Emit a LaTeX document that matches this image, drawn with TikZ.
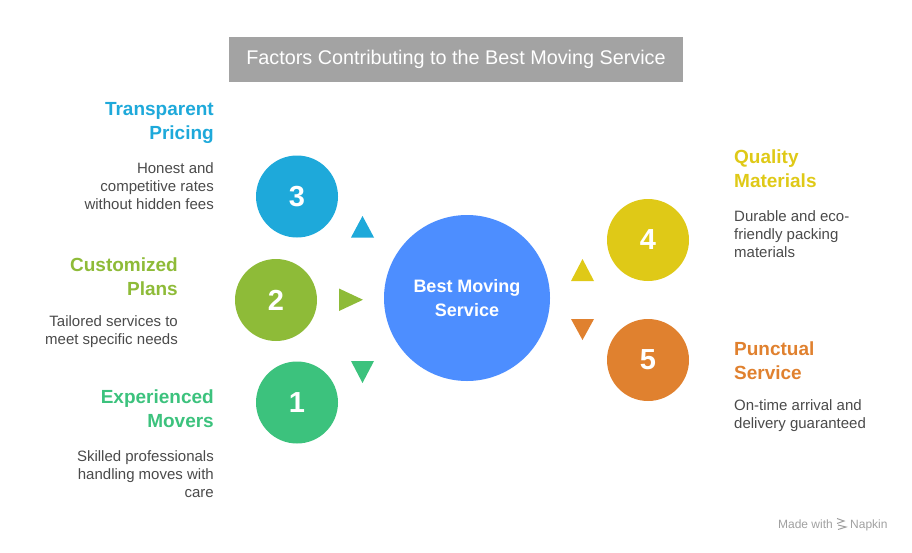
\documentclass[tikz,border=0pt]{standalone}
\usepackage{fontspec}
\setmainfont{Liberation Sans}
\definecolor{titlegray}{HTML}{A3A3A3}
\definecolor{cblue}{HTML}{4D8EFF}
\definecolor{c3}{HTML}{1EA9DA}
\definecolor{c2}{HTML}{8EBB38}
\definecolor{c1}{HTML}{3CC27D}
\definecolor{c4}{HTML}{DFC917}
\definecolor{c5}{HTML}{E0812F}
\definecolor{bodygray}{HTML}{4A4A4A}
\definecolor{napgray}{HTML}{A0A0A0}
\begin{document}
\begin{tikzpicture}[x=1pt,y=-1pt,
  num/.style={circle, minimum size=82pt, inner sep=0pt, text=white, font=\fontsize{29}{30}\selectfont\bfseries},
  head/.style={font=\fontsize{19}{24}\selectfont\bfseries, inner sep=0pt},
  body/.style={font=\fontsize{15}{18}\selectfont, text=bodygray, inner sep=0pt},
  lefttext/.style={anchor=base east, align=right},
  righttext/.style={anchor=base west, align=left}]
\useasboundingbox (0,0) rectangle (912,552);
% title
\node[fill=titlegray, minimum width=454pt, minimum height=45pt, inner sep=0pt,
  text=white, font=\fontsize{19.8}{22}\selectfont] (title) at (456,59.5) {Factors Contributing to the Best Moving Service};
% center
\node[circle, fill=cblue, minimum size=166pt, inner sep=0pt, text=white, align=center,
  font=\fontsize{18}{24}\selectfont\bfseries] (center) at (467,298) {Best Moving\\Service};
% numbered circles
\node[num, fill=c3] (n3) at (297,196.5) {3};
\node[num, fill=c2] (n2) at (276,300) {2};
\node[num, fill=c1] (n1) at (297,402.5) {1};
\node[num, fill=c4] (n4) at (648,240) {4};
\node[num, fill=c5] (n5) at (648,360) {5};
% triangles
\fill[c3] (351,237.5) -- (374,237.5) -- (362.5,216) -- cycle;
\fill[c2] (339,288.5) -- (339,311) -- (363,299.75) -- cycle;
\fill[c1] (351,361) -- (374,361) -- (362.5,383) -- cycle;
\fill[c4] (571,281) -- (594,281) -- (582.5,259) -- cycle;
\fill[c5] (571,319) -- (594,319) -- (582.5,340) -- cycle;
% texts (anchor = baseline of last line)
\node[head, lefttext, text=c3] (h3) at (214,139) {Transparent\\Pricing};
\node[body, lefttext] (b3) at (214,209) {Honest and\\competitive rates\\without hidden fees};
\node[head, lefttext, text=c2] (h2) at (178,295) {Customized\\Plans};
\node[body, lefttext] (b2) at (178,344) {Tailored services to\\meet specific needs};
\node[head, lefttext, text=c1] (h1) at (214,427) {Experienced\\Movers};
\node[body, lefttext] (b1) at (214,497) {Skilled professionals\\handling moves with\\care};
\node[head, righttext, text=c4] (h4) at (734,187) {Quality\\Materials};
\node[body, righttext] (b4) at (734,257) {Durable and eco-\\friendly packing\\materials};
\node[head, righttext, text=c5] (h5) at (734,379) {Punctual\\Service};
\node[body, righttext] (b5) at (734,428) {On-time arrival and\\delivery guaranteed};
% napkin
\node[anchor=base east, inner sep=0pt, text=napgray, font=\fontsize{12}{13}\selectfont] (made) at (833,528) {Made with};
\draw[napgray, line width=1pt] (837,518.5) -- (844,521) -- (837,523.5) (838,525) -- (846,527) -- (838,529.5);
\node[anchor=base west, inner sep=0pt, text=napgray, font=\fontsize{12}{13}\selectfont] (napkin) at (850,528) {Napkin};
\end{tikzpicture}
\end{document}
